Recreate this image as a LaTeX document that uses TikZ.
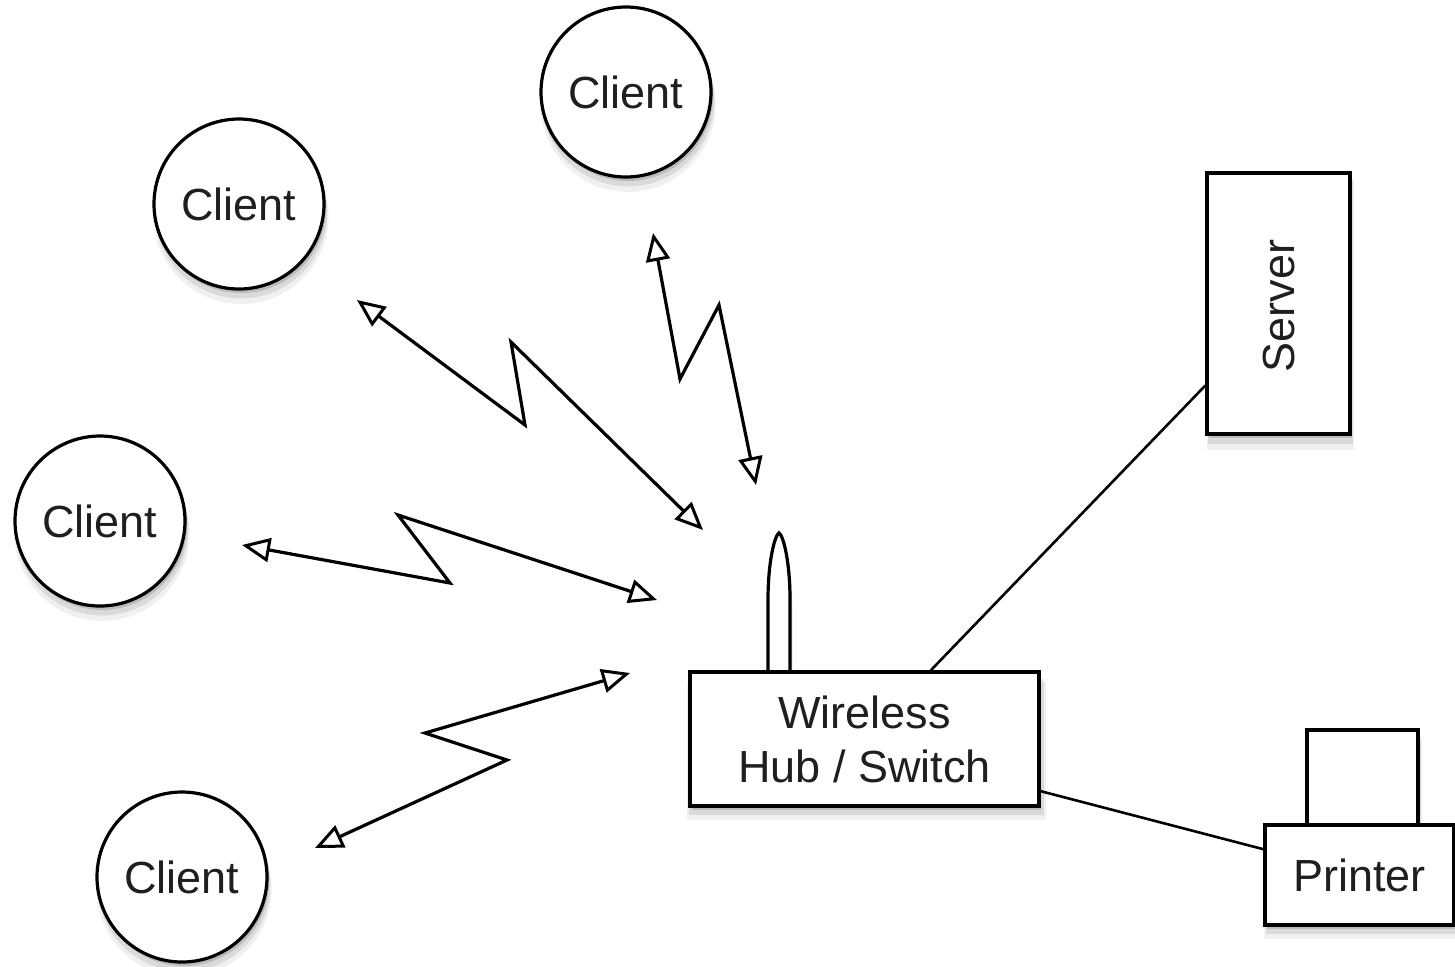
\documentclass[tikz,border=0pt]{standalone}
\usepackage{fontspec}
\setmainfont{Liberation Sans}
\usetikzlibrary{arrows.meta,shadows,calc}
\begin{document}
\begin{tikzpicture}[x=0.5pt,y=-0.5pt,
  every node/.style={font=\fontsize{22.5}{27}\selectfont, text=black!88},
  shad/.style={
    general shadow={shadow xshift=1pt,shadow yshift=-6pt,shadow scale=1.03,opacity=0.06,fill=black},
    general shadow={shadow xshift=1pt,shadow yshift=-4pt,shadow scale=1.015,opacity=0.09,fill=black},
    general shadow={shadow xshift=1pt,shadow yshift=-2pt,opacity=0.14,fill=black}},
  client/.style={circle,draw,line width=1.6pt,fill=white,minimum size=85pt,inner sep=0pt,shad},
  box/.style={rectangle,draw,line width=1.6pt,fill=white,inner sep=0pt,shad},
  link/.style={line width=1.3pt},
  radio/.style={line width=1.6pt,line join=miter,
    {Triangle[open,length=14pt,width=12pt,line width=1.5pt]}-{Triangle[open,length=14pt,width=12pt,line width=1.5pt]}}
]
\useasboundingbox (0,0) rectangle (1455,966);
\fill[white] (0,0) rectangle (1455,966);

% clients
\node[client] (c1) at (626,92) {Client};
\node[client] (c2) at (239,204) {Client};
\node[client] (c3) at (100,521) {Client};
\node[client] (c4) at (182,877) {Client};

% server
\node[box,minimum width=71.5pt,minimum height=130.5pt] (server) at (1278.5,303.5) {};
\node[rotate=90] (servertext) at (1278.5,306) {Server};

% printer
\node[box,minimum width=55.5pt,minimum height=47.5pt] (paper) at (1362.5,777.5) {};
\node[box,minimum width=94.5pt,minimum height=50pt] (printer) at (1359.5,875) {Printer};

% antenna
\draw[line width=1.6pt,fill=white,shad] (768,680) -- (768,600) .. controls (768,560) and (775,535) .. (779,533)
  .. controls (783,535) and (790,560) .. (790,600) -- (790,680);

% hub
\node[box,minimum width=174.5pt,minimum height=67pt,align=center] (hub) at (864.5,739) {Wireless\\Hub / Switch};

% wired links
\coordinate (hubtop) at ($(hub.north west)!0.688!(hub.north east)$);
\coordinate (srvleft) at ($(server.south west)!0.19!(server.north west)$);
\coordinate (hubright) at ($(hub.south east)!0.12!(hub.north east)$);
\coordinate (prnleft) at ($(printer.north west)!0.25!(printer.south west)$);
\draw[link] (hubtop) -- (srvleft);
\draw[link] (hubright) -- (prnleft);

% radio links
\coordinate (a1s) at (653,233); \coordinate (a1e) at (756,485);
\coordinate (a2s) at (357,300); \coordinate (a2e) at (703,530);
\coordinate (a3s) at (242,545); \coordinate (a3e) at (657,600);
\coordinate (a4s) at (315,848); \coordinate (a4e) at (630,673);
\draw[radio] (a1s) -- (680,379) -- (719,305) -- (a1e);
\draw[radio] (a2s) -- (525,425) -- (511,342) -- (a2e);
\draw[radio] (a3s) -- (450,583) -- (398,515) -- (a3e);
\draw[radio] (a4s) -- (507,760) -- (425,733) -- (a4e);
\end{tikzpicture}
\end{document}
